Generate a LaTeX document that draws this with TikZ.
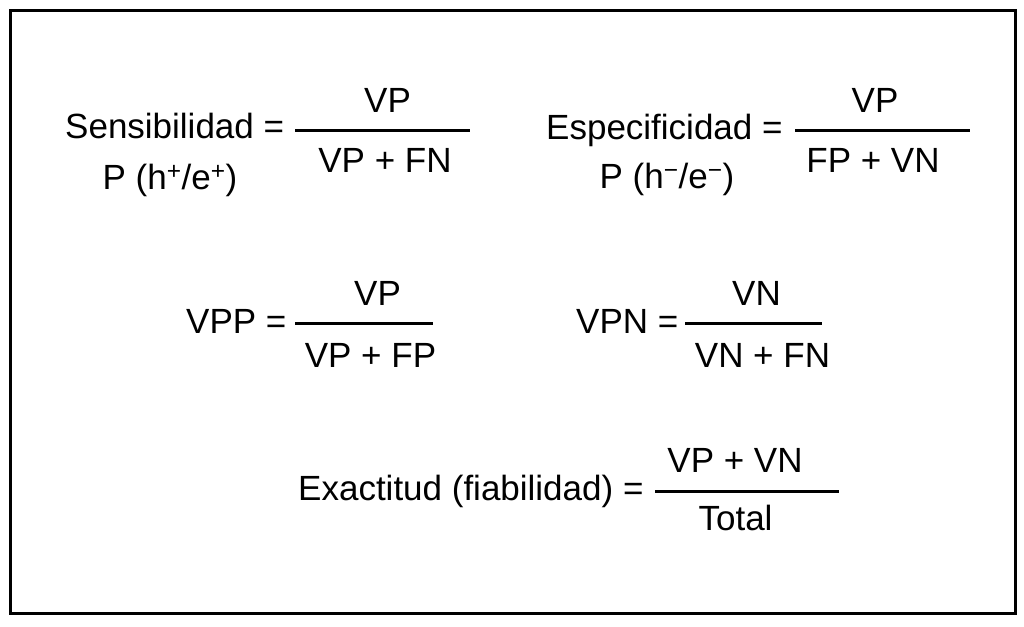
\documentclass[tikz,border=0pt]{standalone}
\usepackage{fontspec}
\setmainfont{Liberation Sans}
\begin{document}
\begin{tikzpicture}[x=1pt,y=-1pt,
  txt/.style={inner sep=0pt, anchor=base, font=\fontsize{35}{40}\selectfont},
  lbl/.style={txt, anchor=base west},
  fracbar/.style={line width=3pt},
  frame/.style={line width=3pt}]
\useasboundingbox (0,0) rectangle (1024,626);
\draw[frame] (10.5,10.5) rectangle (1015.5,613.5);

% Sensibilidad
\node[lbl] (sens) at (65,138) {Sensibilidad =};
\node[txt] (sensp) at (170,189) {P (h\textsuperscript{+}/e\textsuperscript{+})};
\coordinate (s1) at (295,130); \coordinate (s2) at (470,130);
\draw[fracbar] (s1) -- (s2);
\node[txt] (sensnum) at (387.5,112) {VP};
\node[txt] (sensden) at (385,172) {VP + FN};

% Especificidad
\node[lbl] (esp) at (546,139) {Especificidad =};
\node[txt] (espp) at (667,188) {P (h\textsuperscript{\char"2212}/e\textsuperscript{\char"2212})};
\coordinate (e1) at (795,130); \coordinate (e2) at (970,130);
\draw[fracbar] (e1) -- (e2);
\node[txt] (espnum) at (875,112) {VP};
\node[txt] (espden) at (873,172) {FP + VN};

% VPP
\node[lbl] (vpp) at (186,333) {VPP =};
\coordinate (p1) at (295,323); \coordinate (p2) at (433,323);
\draw[fracbar] (p1) -- (p2);
\node[txt] (vppnum) at (377.5,305) {VP};
\node[txt] (vppden) at (370.5,367) {VP + FP};

% VPN
\node[lbl] (vpn) at (576,333) {VPN =};
\coordinate (n1) at (685,323); \coordinate (n2) at (822,323);
\draw[fracbar] (n1) -- (n2);
\node[txt] (vpnnum) at (756.5,305) {VN};
\node[txt] (vpnden) at (762.5,367) {VN + FN};

% Exactitud
\node[lbl] (exa) at (298,500) {Exactitud (fiabilidad) =};
\coordinate (x1) at (655,491); \coordinate (x2) at (839,491);
\draw[fracbar] (x1) -- (x2);
\node[txt] (exanum) at (735,472) {VP + VN};
\node[txt] (exaden) at (735.5,530) {Total};
\end{tikzpicture}
\end{document}
